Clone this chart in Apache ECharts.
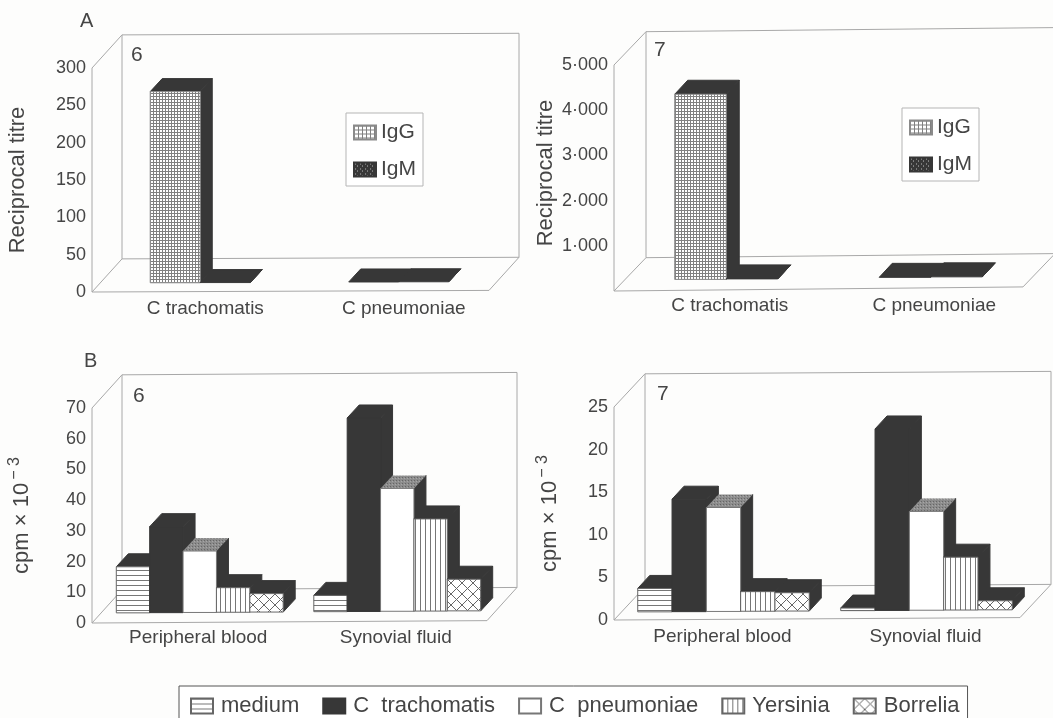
<!DOCTYPE html>
<html><head><meta charset="utf-8">
<style>html,body{margin:0;padding:0;background:#fdfdfc}#c{width:1053px;height:718px}</style>
<script src="https://cdn.jsdelivr.net/npm/echarts@6/dist/echarts.min.js"></script>
</head><body><div id="c"></div>
<script>
// ---- data ----
const categoriesA = ['C trachomatis', 'C pneumoniae'];
const categoriesB = ['Peripheral blood', 'Synovial fluid'];
const igG6 = [256, 0];
const igM6 = [0, 0];
const igG7 = [4096, 0];
const igM7 = [0, 0];
const medium6 = [15, 5.3];
const trachomatis6 = [28, 63];
const pneumoniae6 = [20, 40];
const yersinia6 = [8, 30];
const borrelia6 = [6, 10.3];
const medium7 = [2.75, 0.3];
const trachomatis7 = [13.2, 21.3];
const pneumoniae7 = [12.2, 11.6];
const yersinia7 = [2.3, 6.2];
const borrelia7 = [2.15, 1.06];
const ticksA7 = ['', '1·000', '2·000', '3·000', '4·000', '5·000'];

const FONT = 'Liberation Sans', INK = '#454545', DARK = '#373737', FRAME = '#a8a8a8';

function tile(w, h, draw) {
  const c = document.createElement('canvas'); c.width = w; c.height = h;
  draw(c.getContext('2d')); return {image: c, repeat: 'repeat'};
}
const bgWhite = (g, w, h) => { g.fillStyle = '#fff'; g.fillRect(0, 0, w, h); };
const gridFill = n => tile(n, n, g => { bgWhite(g, n, n); g.fillStyle = '#808080'; g.fillRect(0, 0, n, 1); g.fillRect(0, 0, 1, n); });
const P = {
  igG: gridFill(3),
  igGLegend: gridFill(4),
  igM: tile(5, 5, g => { g.fillStyle = DARK; g.fillRect(0, 0, 5, 5); g.fillStyle = '#bbb'; g.fillRect(1, 1, 1, 1); g.fillRect(3, 3, 1, 1); }),
  hLines: tile(5, 5, g => { bgWhite(g, 5, 5); g.fillStyle = '#777'; g.fillRect(0, 0, 5, 1); }),
  vLines: tile(5, 5, g => { bgWhite(g, 5, 5); g.fillStyle = '#777'; g.fillRect(0, 0, 1, 5); }),
  cross: tile(11, 11, g => { bgWhite(g, 11, 11); g.strokeStyle = '#666'; g.lineWidth = 1;
    g.beginPath(); g.moveTo(0, 0); g.lineTo(11, 11); g.moveTo(11, 0); g.lineTo(0, 11); g.stroke(); }),
  dither: tile(3, 3, g => { g.fillStyle = '#8c8c8c'; g.fillRect(0, 0, 3, 3); g.fillStyle = '#666'; g.fillRect(0, 0, 1, 1); g.fillStyle = '#a6a6a6'; g.fillRect(2, 1, 1, 1); })
};
const S = {
  'IgG': {fill: P.igG, top: DARK, stroke: '#8a8a8a'},
  'IgM': {fill: P.igM, top: DARK, stroke: DARK},
  'medium': {fill: P.hLines, top: DARK, stroke: '#666'},
  'C  trachomatis': {fill: DARK, top: DARK, stroke: DARK},
  'C  pneumoniae': {fill: '#fff', top: P.dither, stroke: '#777'},
  'Yersinia': {fill: P.vLines, top: DARK, stroke: '#666'},
  'Borrelia': {fill: P.cross, top: DARK, stroke: '#666'}
};

const panels = [
  {g: {left: 92, top: 68, width: 397, height: 224}, max: 300, step: 50, cats: categoriesA, frac: 0.252, ox: 9, oy: 9, dx: 12, dy: 13, fx: 30, fy: 33, tilt: .004, labelPad: 28, lblY: 7,
   name: 'Reciprocal titre', nameGap: 63, namePad: 0,
   series: [['IgG', igG6], ['IgM', igM6]]},
  {g: {left: 614, top: 65, width: 409, height: 226}, max: 5000, step: 1000, cats: categoriesA, frac: 0.252, ox: 10, oy: 11, dx: 13, dy: 14, fx: 32, fy: 33, tilt: .01, labelPad: 27, lblY: 5,
   name: 'Reciprocal titre', nameGap: 57, namePad: 10, labels: ticksA7,
   series: [['IgG', igG7], ['IgM', igM7]]},
  {g: {left: 92, top: 408, width: 395, height: 215}, max: 70, step: 10, cats: categoriesB, frac: 0.169, ox: 9, oy: 10, dx: 12, dy: 13, fx: 30, fy: 33, tilt: .006, labelPad: 15, lblY: 5, rich: true, nameGap: 59,
   series: [['medium', medium6], ['C  trachomatis', trachomatis6], ['C  pneumoniae', pneumoniae6], ['Yersinia', yersinia6], ['Borrelia', borrelia6]]},
  {g: {left: 614, top: 407, width: 406, height: 213}, max: 25, step: 5, cats: categoriesB, frac: 0.169, ox: 8, oy: 8, dx: 12, dy: 13, fx: 31, fy: 33, tilt: .006, labelPad: 14, lblY: 7, rich: true, nameGap: 53,
   series: [['medium', medium7], ['C  trachomatis', trachomatis7], ['C  pneumoniae', pneumoniae7], ['Yersinia', yersinia7], ['Borrelia', borrelia7]]}
];

const grid = [], xAxis = [], yAxis = [], series = [];
panels.forEach((p, pi) => {
  grid.push(p.g);
  xAxis.push({type: 'category', gridIndex: pi, data: p.cats, axisLine: {show: false}, axisTick: {show: false},
    axisLabel: {interval: 0, margin: p.lblY, color: INK, fontFamily: FONT, fontSize: 19, padding: [0, 0, 0, p.labelPad]}});
  yAxis.push({type: 'value', gridIndex: pi, min: 0, max: p.max, interval: p.step, splitLine: {show: false},
    axisLine: {show: false}, axisTick: {show: false},
    axisLabel: {margin: 6, color: INK, fontFamily: FONT, fontSize: 18, showMinLabel: true, showMaxLabel: true,
      formatter: p.labels ? (v, i) => p.labels[Math.round(v / p.step)] : undefined},
    name: p.rich ? '{a|cpm × 10}{s|− 3}' : p.name, nameLocation: 'middle', nameGap: p.nameGap, nameRotate: 90,
    nameTextStyle: p.rich
      ? {rich: {a: {color: INK, fontFamily: FONT, fontSize: 22, lineHeight: 26, verticalAlign: 'bottom'},
                s: {color: INK, fontFamily: FONT, fontSize: 16, lineHeight: 26, verticalAlign: 'top', padding: [0, 0, 8, 3]}}}
      : {color: INK, fontFamily: FONT, fontSize: 22, padding: [0, 0, 0, p.namePad]}});

  // box walls and floor
  series.push({type: 'custom', name: 'frame' + pi, xAxisIndex: pi, yAxisIndex: pi, silent: true, clip: false,
    data: [[0, 0]], encode: {x: 0, y: 1},
    renderItem(params) {
      const c = params.coordSys, t = (x, y) => [x, y - p.tilt * (x - c.x)];
      const x0 = c.x, x1 = c.x + c.width, y0 = c.y, y1 = c.y + c.height;
      const lines = [
        [t(x0, y0), t(x0, y1), t(x1, y1), t(x1 + p.fx, y1 - p.fy), t(x0 + p.fx, y1 - p.fy), t(x0, y1)],
        [t(x0, y0), t(x0 + p.fx, y0 - p.fy), t(x1 + p.fx, y0 - p.fy), t(x1 + p.fx, y1 - p.fy)],
        [t(x0 + p.fx, y0 - p.fy), t(x0 + p.fx, y1 - p.fy)]
      ];
      return {type: 'group', children: lines.map(l => ({type: 'polyline', shape: {points: l}, style: {stroke: FRAME, lineWidth: 1, fill: 'none'}}))};
    }});

  p.series.forEach(([name, vals], si) => {
    const st = S[name], n = p.series.length;
    series.push({type: 'custom', name, xAxisIndex: pi, yAxisIndex: pi, silent: true, clip: false,
      itemStyle: {color: st.fill, borderColor: st.stroke, borderWidth: 1},
      data: vals.map((v, i) => [i, v]), encode: {x: 0, y: 1},
      renderItem(params, api) {
        const a = api.coord([api.value(0), 0]), b = api.coord([api.value(0), api.value(1)]);
        const w = api.size([1, 0])[0] * p.frac;
        const x = a[0] + p.ox + (si - n / 2) * w;
        const s = p.tilt * (x - params.coordSys.x);
        const y0 = a[1] - p.oy - s, y1 = b[1] - p.oy - s, dx = p.dx, dy = p.dy;
        const topStroke = typeof st.top === 'string' ? st.top : null;
        return {type: 'group', children: [
          {type: 'polygon', shape: {points: [[x + w, y1], [x + w + dx, y1 - dy], [x + w + dx, y0 - dy], [x + w, y0]]}, style: {fill: DARK, stroke: DARK, lineWidth: 1}},
          {type: 'polygon', shape: {points: [[x, y1], [x + dx, y1 - dy], [x + w + dx, y1 - dy], [x + w, y1]]}, style: {fill: st.top, stroke: topStroke, lineWidth: 1}},
          {type: 'rect', shape: {x, y: y1, width: w, height: y0 - y1}, style: {fill: st.fill, stroke: y0 - y1 > 1 ? st.stroke : null, lineWidth: 1}}
        ]};
      }});
  });
});

const smallLegend = (left, top) => ({
  orient: 'vertical', left, top, padding: [9, 7, 6, 7], itemWidth: 22, itemHeight: 14, itemGap: 16,
  borderColor: '#b5b5b5', borderWidth: 1, backgroundColor: '#fff', selectedMode: false, icon: 'rect',
  textStyle: {color: INK, fontFamily: FONT, fontSize: 21},
  data: [{name: 'IgG', itemStyle: {color: P.igGLegend}}, {name: 'IgM'}]
});
const T = (text, left, top, size) => ({text, left, top, padding: 0, textStyle: {color: INK, fontFamily: FONT, fontSize: size, fontWeight: 'normal'}});

echarts.init(document.getElementById('c'), null, {renderer: 'canvas'}).setOption({
  animation: false, backgroundColor: '#fdfdfc',
  title: [T('A', 80, 11, 20), T('B', 84, 351, 20), T('6', 131, 45, 21), T('7', 654, 40, 21), T('6', 133, 386, 21), T('7', 657, 384, 21)],
  grid, xAxis, yAxis, series,
  legend: [smallLegend(346, 113), smallLegend(902, 108), {
    orient: 'horizontal', left: 179, top: 686, padding: [9, 8, 8, 11], itemWidth: 22, itemHeight: 15, itemGap: 23,
    borderColor: '#555', borderWidth: 1, backgroundColor: '#fff', selectedMode: false, icon: 'rect',
    textStyle: {color: INK, fontFamily: FONT, fontSize: 22, padding: [0, 0, 0, 3]},
    data: ['medium', 'C  trachomatis', 'C  pneumoniae', 'Yersinia', 'Borrelia']
  }]
});
</script></body></html>
